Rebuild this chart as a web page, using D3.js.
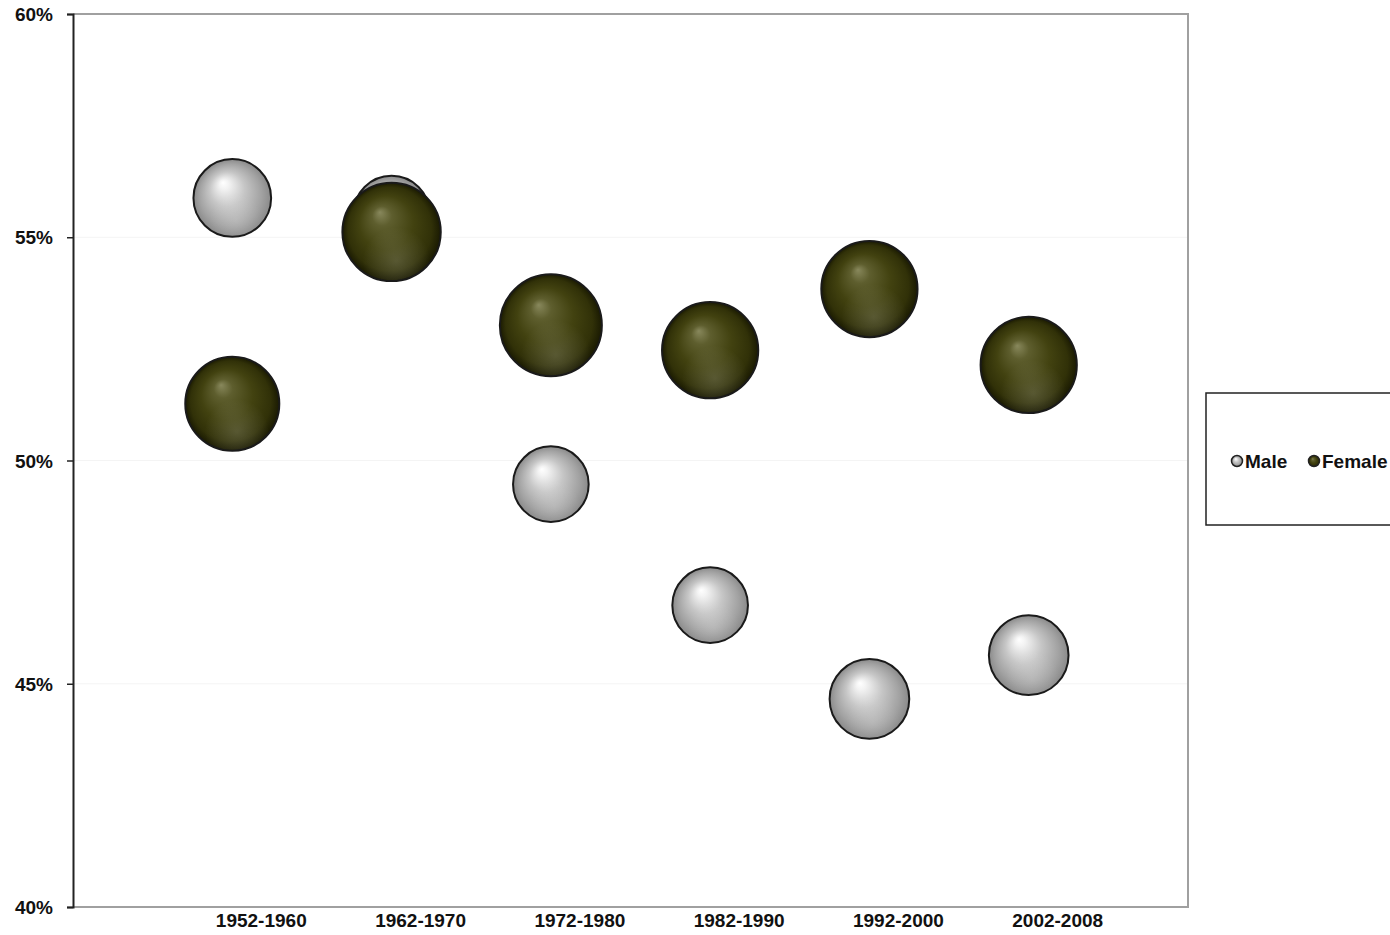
<!DOCTYPE html>
<html>
<head>
<meta charset="utf-8">
<script src="https://cdn.jsdelivr.net/npm/d3@7"></script>
<style>
  body { margin: 0; background: #fff; }
  svg { display: block; }
  text { font-family: "Liberation Sans", Arial, sans-serif; font-weight: bold; fill: #111; }
</style>
</head>
<body>
<svg id="chart" width="1390" height="935"></svg>
<script>
// Period categories along the horizontal axis
const periods = ["1952-1960", "1962-1970", "1972-1980", "1982-1990", "1992-2000", "2002-2008"];
// Share (%) for each series
const maleShare   = [55.88, 55.52, 49.47, 46.76, 44.66, 45.64];
const femaleShare = [51.27, 55.12, 53.03, 52.47, 53.84, 52.14];
// Bubble size values for each series
const maleSize    = [58, 56, 55, 55, 61, 61];
const femaleSize  = [85, 93, 100, 89, 89, 89];
// Vertical axis ticks
const yTicks = [40, 45, 50, 55, 60];

const svg = d3.select("#chart");
const plot = { left: 73, right: 1188, top: 14, bottom: 907 };

const x = d3.scaleLinear().domain([0, periods.length + 1]).range([plot.left, plot.right]);
const y = d3.scaleLinear().domain([40, 60]).range([plot.bottom, plot.top]);
const r = d3.scaleSqrt().domain([0, 100]).range([0, 51]);

// Sphere shading
const defs = svg.append("defs");
function sphere(id, stops) {
  const g = defs.append("radialGradient").attr("id", id)
    .attr("cx", "50%").attr("cy", "50%").attr("r", "50%")
    .attr("fx", "38%").attr("fy", "30%");
  stops.forEach(s => g.append("stop").attr("offset", s[0]).attr("stop-color", s[1]));
}
sphere("maleFill", [["0%", "#ffffff"], ["12%", "#f3f3f3"], ["45%", "#c6c6c6"], ["80%", "#a2a2a2"], ["100%", "#8a8a8a"]]);
sphere("femaleFill", [["0%", "#88885c"], ["20%", "#5e5e2e"], ["55%", "#424210"], ["85%", "#313108"], ["100%", "#1a1a02"]]);
// soft lower reflection
const refl = defs.append("radialGradient").attr("id", "reflect")
  .attr("cx", "55%").attr("cy", "80%").attr("r", "35%");
refl.append("stop").attr("offset", "0%").attr("stop-color", "#ffffff").attr("stop-opacity", 0.16);
refl.append("stop").attr("offset", "100%").attr("stop-color", "#ffffff").attr("stop-opacity", 0);

// Faint gridlines
svg.append("g").selectAll("line").data([45, 50, 55]).join("line")
  .attr("x1", plot.left).attr("x2", plot.right)
  .attr("y1", d => y(d)).attr("y2", d => y(d))
  .attr("stroke", "#f4f4f4").attr("stroke-width", 1);

// Plot area frame (top, right, bottom)
svg.append("path")
  .attr("d", `M${plot.left},${plot.top}H${plot.right}V${plot.bottom}H${plot.left}`)
  .attr("fill", "none").attr("stroke", "#a0a0a0").attr("stroke-width", 2);

// Vertical axis
const yAxis = svg.append("g").attr("transform", `translate(${plot.left},0)`)
  .call(d3.axisLeft(y).tickValues(yTicks).tickSize(6).tickPadding(14).tickFormat(d => d + "%"));
yAxis.select(".domain").attr("stroke", "#222").attr("stroke-width", 2);
yAxis.selectAll(".tick line").attr("stroke", "#222").attr("stroke-width", 1.5);
yAxis.selectAll("text").attr("font-size", 19).attr("dy", "0.35em").attr("letter-spacing", 0)
  .style("font-family", "'Liberation Sans', Arial, sans-serif").style("font-weight", "bold").attr("fill", "#111");

// Category labels
svg.append("g").selectAll("text").data(periods).join("text")
  .attr("x", (d, i) => x(i + 1) + 29)
  .attr("y", 927)
  .attr("text-anchor", "middle")
  .attr("font-size", 19)
  .text(d => d);

// Bubbles
function drawSeries(vals, sizes, fillId) {
  const g = svg.append("g");
  const data = vals.map((v, i) => ({ i, v, s: sizes[i] }));
  g.selectAll("circle.b").data(data).join("circle").attr("class", "b")
    .attr("cx", d => x(d.i + 1)).attr("cy", d => y(d.v)).attr("r", d => r(d.s))
    .attr("fill", `url(#${fillId})`).attr("stroke", "#1a1a1a").attr("stroke-width", 2);
  g.selectAll("circle.h").data(data).join("circle").attr("class", "h")
    .attr("cx", d => x(d.i + 1)).attr("cy", d => y(d.v)).attr("r", d => r(d.s) - 1)
    .attr("fill", "url(#reflect)");
}
drawSeries(maleShare, maleSize, "maleFill");
drawSeries(femaleShare, femaleSize, "femaleFill");

// Legend
const lg = svg.append("g");
lg.append("rect").attr("x", 1206).attr("y", 393).attr("width", 200).attr("height", 132)
  .attr("fill", "#fff").attr("stroke", "#222").attr("stroke-width", 1.5);
const items = [{ name: "Male", fill: "maleFill", x: 1237 }, { name: "Female", fill: "femaleFill", x: 1314 }];
items.forEach(it => {
  lg.append("circle").attr("cx", it.x).attr("cy", 461).attr("r", 5.5)
    .attr("fill", `url(#${it.fill})`).attr("stroke", "#222").attr("stroke-width", 1.5);
  lg.append("text").attr("x", it.x + 8).attr("y", 468).attr("font-size", 19)
    .text(it.name);
});
</script>
</body>
</html>
